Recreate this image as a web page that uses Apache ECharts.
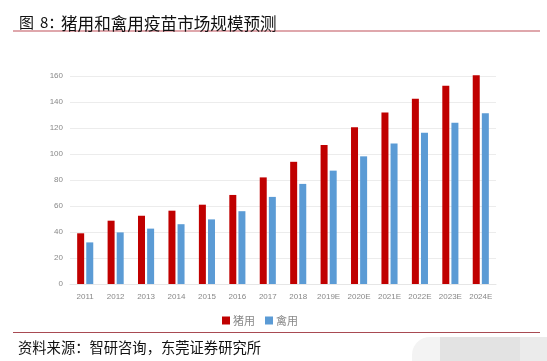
<!DOCTYPE html>
<html>
<head>
<meta charset="utf-8">
<script src="https://cdn.jsdelivr.net/npm/echarts@6/dist/echarts.min.js"></script>
<style>
html,body{margin:0;padding:0;background:#fff;}
#c{width:547px;height:361px;}
</style>
</head>
<body>
<div id="c"></div>
<script>
var categories = ['2011','2012','2013','2014','2015','2016','2017','2018','2019E','2020E','2021E','2022E','2023E','2024E'];
var pigValues = [39, 48.7, 52.5, 56.4, 61, 68.5, 82, 94, 107, 120.5, 132, 142.5, 152.5, 160.5];
var poultryValues = [32, 39.7, 42.6, 46, 49.7, 56, 67, 77, 87.2, 98.2, 108, 116.4, 124, 131.3];
var seriesNames = ['猪用', '禽用'];
var titlePrefix = '图';
var titleNumber = '8：';
var titleMain = '猪用和禽用疫苗市场规模预测';
var sourceText = '资料来源：智研咨询，东莞证券研究所';

var chart = echarts.init(document.getElementById('c'), null, {renderer: 'canvas'});
var cjk = '"Noto Sans CJK SC", "Noto Sans", sans-serif';
chart.setOption({
  animation: false,
  backgroundColor: '#fff',
  title: [
    {text: titlePrefix, left: 14, top: 10, textStyle: {fontFamily: cjk, fontSize: 15, fontWeight: 'normal', color: '#111'}},
    {text: titleNumber, left: 35, top: 10, textStyle: {fontFamily: cjk, fontSize: 15, fontWeight: 'normal', color: '#111'}},
    {text: titleMain, left: 56, top: 10, textStyle: {fontFamily: cjk, fontSize: 16.6, fontWeight: 'normal', color: '#111'}},
    {text: sourceText, left: 13, top: 335, textStyle: {fontFamily: cjk, fontSize: 14.3, fontWeight: 'normal', color: '#111'}}
  ],
  graphic: [
    {type: 'line', shape: {x1: 13, y1: 31, x2: 540, y2: 31}, style: {stroke: '#c0505a', lineWidth: 1.2}},
    {type: 'line', shape: {x1: 13, y1: 332.5, x2: 540, y2: 332.5}, style: {stroke: '#a84a52', lineWidth: 1.2}},
    {type: 'rect', shape: {x: 412, y: 337, width: 60, height: 40, r: 18}, style: {fill: '#f3f3f3'}},
    {type: 'rect', shape: {x: 440, y: 337, width: 80, height: 30}, style: {fill: '#e3e3e3'}},
    {type: 'rect', shape: {x: 520, y: 337, width: 27, height: 30}, style: {fill: '#ebebeb'}}
  ],
  legend: {
    data: seriesNames,
    left: 217, top: 310,
    icon: 'rect', itemWidth: 8, itemHeight: 8, itemGap: 10,
    textStyle: {fontFamily: cjk, fontSize: 11, color: '#888', padding: [0,0,0,-2]}
  },
  grid: {left: 70, right: 51, top: 76, bottom: 77},
  xAxis: {
    type: 'category', data: categories,
    axisLine: {show: true, lineStyle: {color: '#e6e6e6'}},
    axisTick: {show: false},
    axisLabel: {color: '#888', fontSize: 8, margin: 9, interval: 0, fontFamily: 'Liberation Sans, sans-serif'}
  },
  yAxis: {
    type: 'value', min: 0, max: 160, interval: 20,
    axisLine: {show: false}, axisTick: {show: false},
    axisLabel: {color: '#888', fontSize: 8, margin: 7, fontFamily: 'Liberation Sans, sans-serif'},
    splitLine: {lineStyle: {color: '#ececec'}}
  },
  series: [
    {name: seriesNames[0], type: 'bar', data: pigValues, barWidth: 7, barGap: '30%', clip: false, itemStyle: {color: '#c00000'}},
    {name: seriesNames[1], type: 'bar', data: poultryValues, barWidth: 7, barGap: '30%', clip: false, itemStyle: {color: '#5b9bd5'}}
  ]
});
</script>
</body>
</html>
